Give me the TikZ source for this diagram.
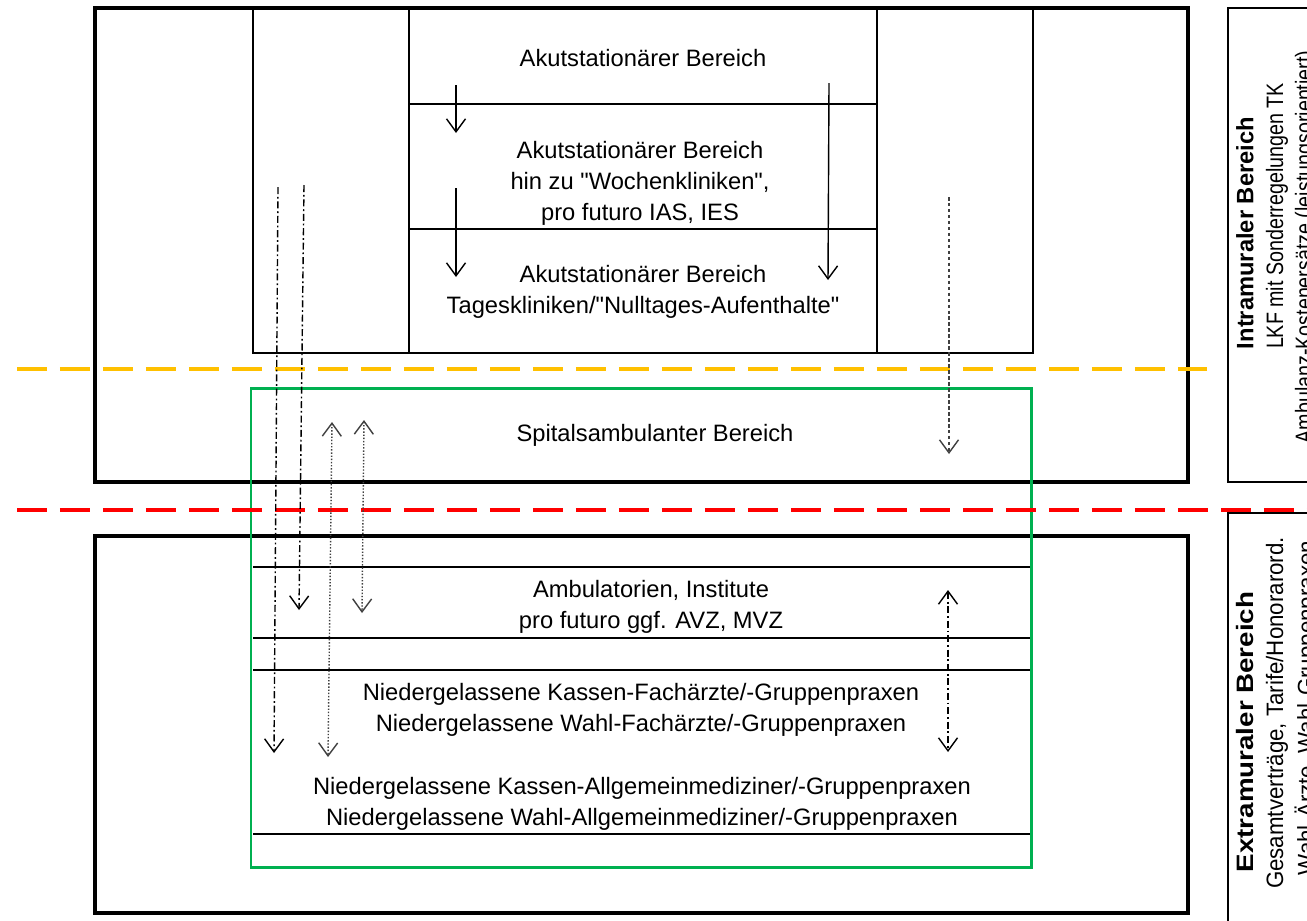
\documentclass[tikz,border=0pt]{standalone}
\usepackage{fontspec}
\setmainfont{Liberation Sans}
\usetikzlibrary{arrows.meta}

\begin{document}
\begin{tikzpicture}
  [x=0.02cm,y=-0.02cm,>={Straight Barb[length=2.6mm,width=3.8mm]},
  frame/.style={draw,line width=2pt},
  cell/.style={draw,line width=1pt},
  care/.style={font=\fontsize{13.5}{17.6}\selectfont,align=center},
  side/.style={font=\fontsize{13.5}{17.6}\selectfont\bfseries,rotate=90},
  sidenote/.style={font=\fontsize{13.5}{17.6}\selectfont,rotate=90},
  border/.style={line width=2.3pt,dash pattern=on 0.6cm off 0.26cm},
  flow/.style={line width=0.8pt},
  dashflow/.style={flow,draw=black!75,dash pattern=on 2pt off 1.4pt},
  dotflow/.style={flow,draw=black!75,densely dotted},
  dashdotflow/.style={flow,dash pattern=on 4pt off 1.6pt on 1pt off 1.6pt}]
  \useasboundingbox (0,0) rectangle (1307,920);
  \clip (0,0) rectangle (1307,920);

  % hospital side
  \draw [frame] (95,8) rectangle (1188,482);
  \draw [cell] (253,8) rectangle (1033,353);
  \draw [cell] (409,8) -- (409,353) (877,8) -- (877,353);
  \draw [cell] (409,104) -- (877,104) (409,229) -- (877,229);

  % practice side
  \draw [frame] (95,536) rectangle (1188,913);
  \draw [cell] (253,567) -- (1031,567) (253,638) -- (1031,638)
    (253,670) -- (1031,670) (253,834) -- (1031,834);
  \draw [draw={rgb,255:red,0;green,176;blue,80},line width=1.7pt]
    (251,388) rectangle (1031,867);

  % side notes
  \draw [line width=1pt] (1228,8) rectangle (1340,482);
  \draw [line width=1pt] (1228,513) rectangle (1340,960);

  \node [care] (akut) at (643,58) {Akutstationärer Bereich};
  \node [care] (woche) at (640,183)
    {Akutstationärer Bereich\\hin zu \textquotedbl Wochenkliniken\textquotedbl,\\pro futuro IAS, IES};
  \node [care] (tages) at (643,292)
    {Akutstationärer Bereich\\Tageskliniken/\textquotedbl Nulltages-Aufenthalte\textquotedbl};
  \node [care] (spital) at (655,435) {Spitalsambulanter Bereich};
  \node [care] (inst) at (651,607)
    {Ambulatorien, Institute\\pro futuro ggf. AVZ, MVZ};
  \node [care] (fach) at (641,710)
    {Niedergelassene Kassen-Fachärzte/-Gruppenpraxen\\Niedergelassene Wahl-Fachärzte/-Gruppenpraxen};
  \node [care] (allg) at (642,804)
    {Niedergelassene Kassen-Allgemeinmediziner/-Gruppenpraxen\\Niedergelassene Wahl-Allgemeinmediziner/-Gruppenpraxen};

  \node [side] (intra) at (1245,233) {Intramuraler Bereich};
  \node [sidenote,xscale=0.83] (lkf) at (1277,216) {LKF mit Sonderregelungen TK};
  \node [sidenote,xscale=0.83] (amb) at (1306,247) {Ambulanz-Kostenersätze (leistungsorientiert)};
  \node [side,xscale=1.17] (extra) at (1245,732) {Extramuraler Bereich};
  \node [sidenote,xscale=0.94] (vertrag) at (1277,713) {Gesamtverträge, Tarife/Honorarord.};
  \node [sidenote,xscale=0.94] (wahl) at (1307,708) {Wahl-Ärzte, Wahl-Gruppenpraxen};

  % sector borders
  \draw [border,draw={rgb,255:red,255;green,192;blue,0}] (17,369) -- (1207,369);
  \draw [border,draw=red] (17,510) -- (1320,510);

  % shifts between the sectors
  \coordinate (s1) at (456,85);  \coordinate (e1) at (456,133);
  \coordinate (s2) at (456,188); \coordinate (e2) at (456,277);
  \coordinate (s3) at (829,83);  \coordinate (e3) at (828,280);
  \coordinate (s4) at (949,197); \coordinate (e4) at (949,454);
  \coordinate (s5) at (278,187); \coordinate (e5) at (274,753);
  \coordinate (s6) at (304,185); \coordinate (e6) at (299,610);
  \coordinate (s7) at (332,422); \coordinate (e7) at (328,757);
  \coordinate (s8) at (364,420); \coordinate (e8) at (362,613);
  \coordinate (s9) at (948,590); \coordinate (e9) at (948,752);

  \draw [flow,->] (s1) -- (e1);
  \draw [flow,->] (s2) -- (e2);
  \draw [flow,->] (s3) -- (e3);
  \draw [dashflow,->] (s4) -- (e4);
  \draw [dashdotflow,->] (s5) -- (e5);
  \draw [dashdotflow,->] (s6) -- (e6);
  \draw [dotflow,<->] (s7) -- (e7);
  \draw [dotflow,<->] (s8) -- (e8);
  \draw [dashdotflow,<->] (s9) -- (e9);
\end{tikzpicture}
\end{document}
